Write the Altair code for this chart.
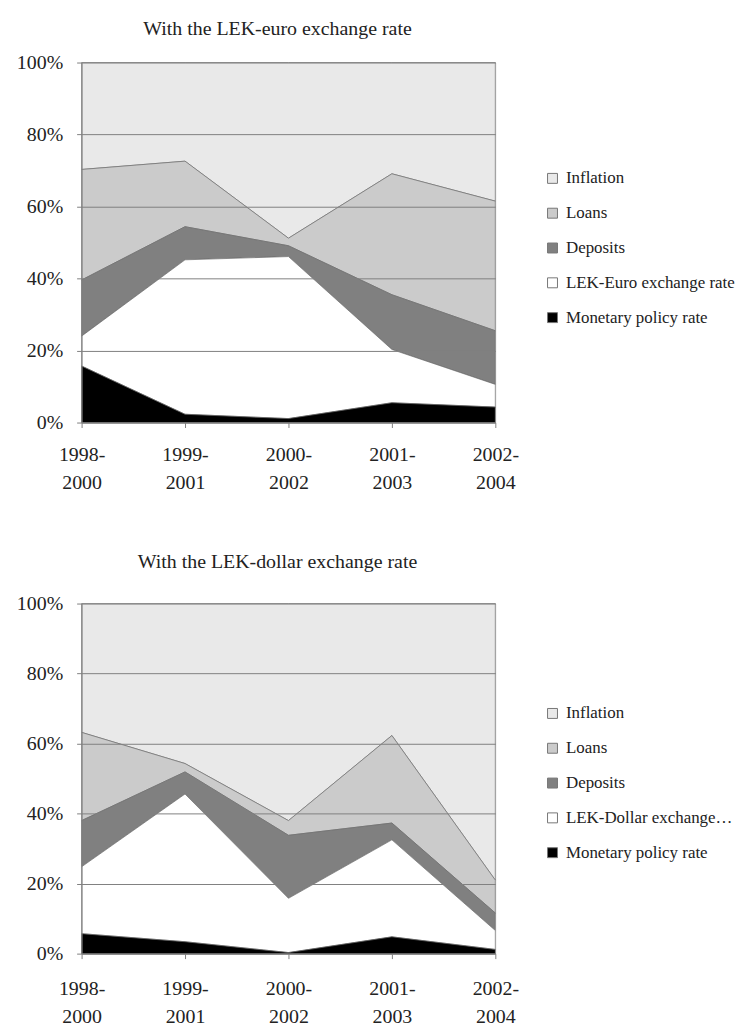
import altair as alt
import pandas as pd

categories = ["1998-2000", "1999-2001", "2000-2002", "2001-2003", "2002-2004"]

euro_monetary = [15.7, 2.3, 1.1, 5.5, 4.3]
euro_fx = [8.3, 42.9, 45.0, 14.8, 6.3]
euro_deposits = [15.6, 9.2, 3.0, 15.2, 14.9]
euro_loans = [30.7, 18.2, 2.1, 33.6, 36.0]
euro_inflation = [29.7, 27.4, 48.8, 30.9, 38.5]

dollar_monetary = [5.7, 3.4, 0.3, 4.8, 1.2]
dollar_fx = [19.1, 42.2, 15.5, 27.7, 5.4]
dollar_deposits = [13.2, 6.3, 18.0, 4.8, 5.0]
dollar_loans = [25.2, 2.4, 4.2, 25.0, 9.4]
dollar_inflation = [36.8, 45.7, 62.0, 37.7, 79.0]

colors = ["#e9e9e9", "#cbcbcb", "#808080", "#ffffff", "#000000"]
FONT = "Liberation Serif"


def build(series, title, fx_name, height, title_offset, legend_y, label_pad):
    names = ["Inflation", "Loans", "Deposits", fx_name, "Monetary policy rate"]
    rows = []
    for name, vals in zip(names, series):
        order = 4 - names.index(name)
        for c, v in zip(categories, vals):
            rows.append({"period": c, "component": name, "value": v, "ord": order})
    df = pd.DataFrame(rows)
    return (
        alt.Chart(df)
        .mark_area(stroke="#6e6e6e", strokeWidth=0.7, interpolate="linear")
        .encode(
            x=alt.X(
                "period:N",
                sort=categories,
                scale=alt.Scale(padding=0),
                axis=alt.Axis(
                    title=None,
                    labelAngle=0,
                    labelExpr="[slice(datum.label, 0, 5), slice(datum.label, 5)]",
                    labelLineHeight=28,
                    labelPadding=label_pad,
                    labelFont=FONT,
                    labelFontSize=20,
                    labelColor="#222",
                    tickSize=5,
                    tickColor="#808080",
                    domainColor="#808080",
                    grid=False,
                ),
            ),
            y=alt.Y(
                "value:Q",
                stack="normalize",
                scale=alt.Scale(domain=[0, 1]),
                axis=alt.Axis(
                    title=None,
                    format=".0%",
                    values=[0, 0.2, 0.4, 0.6, 0.8, 1.0],
                    labelFont=FONT,
                    labelFontSize=20,
                    labelColor="#222",
                    labelPadding=14,
                    tickSize=5,
                    tickColor="#808080",
                    domainColor="#808080",
                    gridColor="#808080",
                    gridWidth=1,
                    zindex=1,
                ),
            ),
            color=alt.Color(
                "component:N",
                scale=alt.Scale(domain=names, range=colors),
                legend=alt.Legend(
                    title=None,
                    orient="none",
                    legendX=465,
                    legendY=legend_y,
                    symbolType="square",
                    symbolSize=100,
                    symbolStrokeColor="#777",
                    symbolStrokeWidth=1,
                    symbolOpacity=1,
                    labelFont=FONT,
                    labelFontSize=17,
                    labelColor="#222",
                    labelOffset=5,
                    rowPadding=17,
                    labelLimit=170,
                ),
            ),
            order=alt.Order("ord:Q", sort="ascending"),
        )
        .properties(
            width=416,
            height=height,
            title=alt.TitleParams(
                title, font=FONT, fontSize=20, fontWeight="normal", color="#222",
                anchor="middle", dx=-11, offset=title_offset,
            ),
        )
    )


top = build(
    [euro_inflation, euro_loans, euro_deposits, euro_fx, euro_monetary],
    "With the LEK-euro exchange rate", "LEK-Euro exchange rate", 362, 14, 108, 17,
)
bottom = build(
    [dollar_inflation, dollar_loans, dollar_deposits, dollar_fx, dollar_monetary],
    "With the LEK-dollar exchange rate", "LEK-Dollar exchange rate", 352, 22, 102, 20,
)

chart = (
    alt.vconcat(top, bottom, spacing=58)
    .resolve_scale(color="independent")
    .properties(padding={"top": 7, "left": 7, "right": 0, "bottom": 5})
    .configure_view(stroke="#808080", strokeWidth=1)
    .configure(background="white")
)

chart.save("out.html", embed_options={"renderer": "svg", "actions": False})
